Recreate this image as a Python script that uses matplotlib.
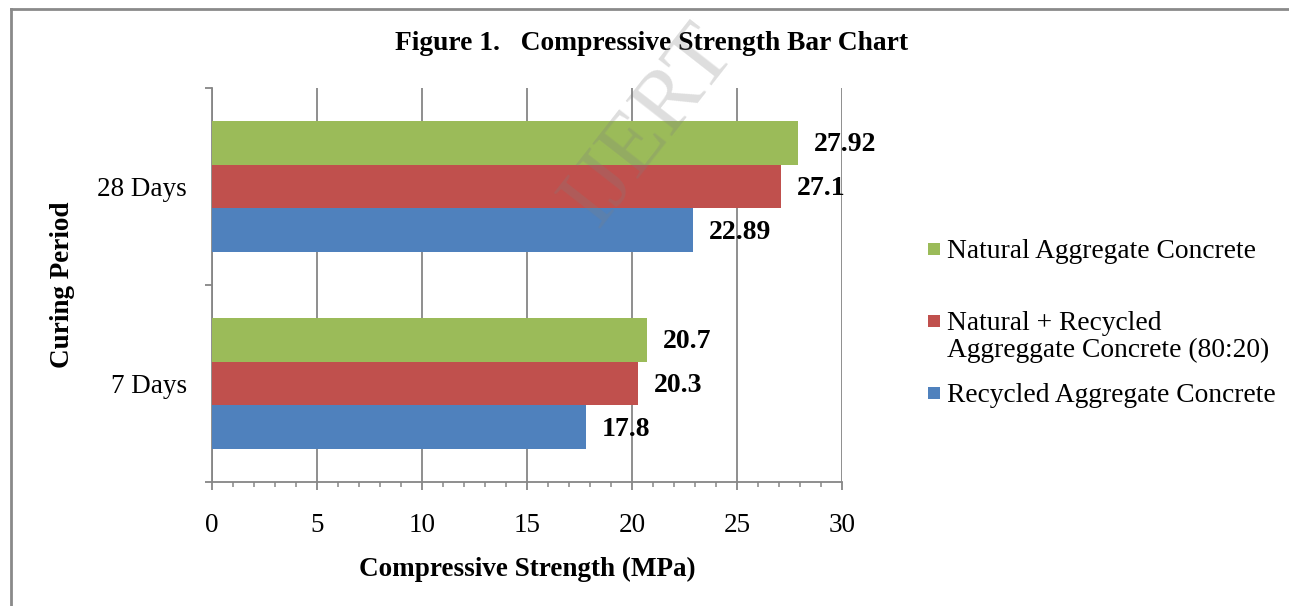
"""Compressive strength bar chart (Excel-style horizontal grouped bars)."""

import matplotlib

matplotlib.use("Agg")
import matplotlib.pyplot as plt  # noqa: E402
import numpy as np  # noqa: E402
from matplotlib.lines import Line2D  # noqa: E402
from matplotlib.patches import Rectangle  # noqa: E402

# ---- data -----------------------------------------------------------------
periods = ["7 Days", "28 Days"]
series_names = [
    "Recycled Aggregate Concrete",
    "Natural + Recycled\nAggreggate Concrete (80:20)",
    "Natural Aggregate Concrete",
]
recycled = [17.8, 22.89]
mixed = [20.3, 27.1]
natural = [20.7, 27.92]
x_ticks = [0, 5, 10, 15, 20, 25, 30]

colors = ["#4F81BD", "#C0504D", "#9BBB59"]
values = [recycled, mixed, natural]

plt.rcParams["font.family"] = ["Liberation Serif", "DejaVu Serif"]
FS = 19.5
W, H = 1289, 606

fig = plt.figure(figsize=(W / 100, H / 100), dpi=100)
ax = fig.add_axes([212 / W, 1 - 482 / H, 630 / W, 394 / H])

centers = np.arange(len(periods)) + 0.5
bar_h = 1 / 4.5
for i, (vals, col) in enumerate(zip(values, colors)):
    ys = centers + (i - 1) * bar_h
    ax.barh(ys, vals, height=bar_h, color=col, zorder=3)
    for y, v in zip(ys, vals):
        ax.text(v + 0.75, y - 0.01, f"{v:g}", va="center", ha="left",
                fontsize=FS + 0.5, fontweight="bold", zorder=5)

ax.set_xlim(0, 30)
ax.set_ylim(0, len(periods))
ax.set_xticks(x_ticks)
ax.set_xticks(np.arange(0, 31, 1), minor=True)
ax.set_xticklabels([str(t) for t in x_ticks], fontsize=FS)
ax.set_yticks(np.arange(len(periods) + 1))
ax.set_yticklabels([])
ax.set_yticks(centers, minor=True)
ax.set_yticklabels(periods, minor=True, fontsize=FS)

grid_c = "#868686"
ax.grid(axis="x", which="major", color=grid_c, linewidth=1.3, zorder=0)
ax.set_axisbelow(True)
for s in ("top", "right"):
    ax.spines[s].set_visible(False)
for s in ("left", "bottom"):
    ax.spines[s].set_color(grid_c)
    ax.spines[s].set_linewidth(1.3)

ax.tick_params(axis="x", which="major", direction="out", length=6,
               width=1.3, color=grid_c, pad=16)
ax.tick_params(axis="x", which="minor", direction="out", length=3.5,
               width=1.1, color=grid_c)
ax.tick_params(axis="y", which="major", direction="out", length=5,
               width=1.3, color=grid_c)
ax.tick_params(axis="y", which="minor", length=0, pad=18)

# titles and axis labels
fig.text(652 / W, 1 - 43 / H, "Figure 1.   Compressive Strength Bar Chart",
         ha="center", va="center", fontsize=19.8, fontweight="bold")
fig.text(527 / W, 1 - 569 / H, "Compressive Strength (MPa)",
         ha="center", va="center", fontsize=FS, fontweight="bold")
fig.text(63 / W, 1 - 285 / H, "Curing Period", rotation=90,
         ha="center", va="center", fontsize=FS, fontweight="bold")

# legend drawn entry by entry (Excel spacing is uneven)
legend_rows = [(2, 249), (1, 321), (0, 393)]
for idx, ypx in legend_rows:
    fig.patches.append(Rectangle((928 / W, 1 - (ypx + 6) / H), 12 / W, 12 / H,
                                 transform=fig.transFigure,
                                 facecolor=colors[idx], edgecolor="none"))
    fig.text(947 / W, 1 - (ypx - 10) / H, series_names[idx], ha="left",
             va="top", fontsize=FS + 0.3, linespacing=1.1)

# outer frame (left and top edges visible)
frame_kw = dict(color="#8a8a8a", linewidth=2, transform=fig.transFigure)
fig.lines.append(Line2D([11 / W, 11 / W], [0, 1 - 9 / H], **frame_kw))
fig.lines.append(Line2D([11 / W, 1], [1 - 9 / H, 1 - 9 / H], **frame_kw))

# watermark
fig.text(650 / W, 1 - 126 / H, "IJERT", rotation=52, ha="center",
         va="center", fontsize=64, color="#7f7f7f", alpha=0.26, zorder=10)

fig.savefig("out.png", dpi=100)
